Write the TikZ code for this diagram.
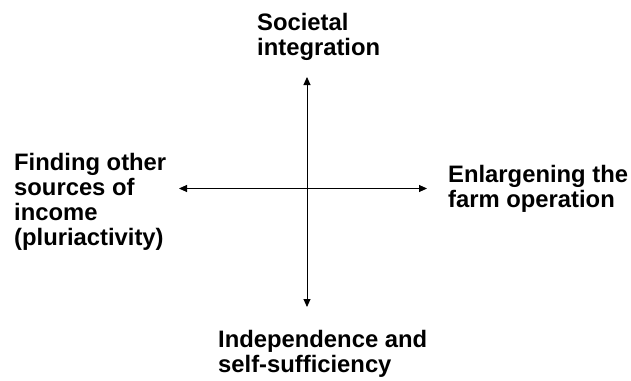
\documentclass[tikz,border=0pt]{standalone}
\usepackage{fontspec}
\setmainfont{Liberation Sans}
\usetikzlibrary{arrows.meta}
\begin{document}
\begin{tikzpicture}[x=1pt,y=-1pt,
  label text/.style={inner sep=0pt, anchor=base west, align=left,
    font=\bfseries\fontsize{23.8}{25}\selectfont},
  axis arrow/.style={line width=0.9pt, {Triangle[length=8pt,width=7pt]}-{Triangle[length=8pt,width=7pt]}}]
  \useasboundingbox (0,0) rectangle (631,380);
  % end points of the two axes
  \coordinate (top) at (307,77);
  \coordinate (bottom) at (307,307);
  \coordinate (left) at (179,188.5);
  \coordinate (right) at (427,188.5);
  \draw[axis arrow] (bottom) -- (top);
  \draw[axis arrow] (left) -- (right);
  % axis labels, placed by the baseline of their last line
  \node[label text] (north) at (257,55) {Societal\\integration};
  \node[label text] (west) at (14,245) {Finding other\\sources of\\income\\(pluriactivity)};
  \node[label text] (east) at (448,207) {Enlargening the\\farm operation};
  \node[label text] (south) at (218,372) {Independence and\\self-sufficiency};
\end{tikzpicture}
\end{document}
